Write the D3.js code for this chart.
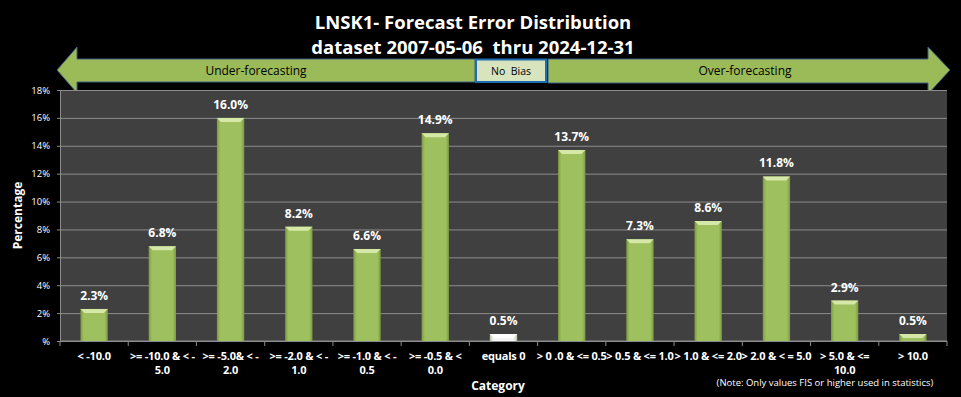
<!DOCTYPE html>
<html>
<head>
<meta charset="utf-8">
<script src="https://cdn.jsdelivr.net/npm/d3@7/dist/d3.min.js"></script>
<style>
	html, body { margin: 0; padding: 0; background: #000; }
	svg { display: block; }
	text { font-family: "Open Sans", "Noto Sans", sans-serif; white-space: pre; }
</style>
</head>
<body>
<div id="chart"></div>
<script>
const titleLines = ["LNSK1- Forecast Error Distribution", "dataset 2007-05-06  thru 2024-12-31"];

// wrapped category labels, lines split with "\n" as in the picture
const categories = [
	"< -10.0",
	">= -10.0 & < -\n5.0",
	">= -5.0& < -\n2.0",
	">= -2.0 & < -\n1.0",
	">= -1.0 & < -\n0.5",
	">= -0.5 & <\n0.0",
	"equals 0",
	"> 0 .0 & <= 0.5",
	"> 0.5 & <= 1.0",
	"> 1.0 & <= 2.0",
	"> 2.0 & < = 5.0",
	"> 5.0 & <=\n10.0",
	"> 10.0"
];
const percentages = [2.3, 6.8, 16.0, 8.2, 6.6, 14.9, 0.5, 13.7, 7.3, 8.6, 11.8, 2.9, 0.5];
const yTicks = [0, 2, 4, 6, 8, 10, 12, 14, 16, 18];

const width = 961, height = 397;
const margin = {top: 90, right: 14, bottom: 56, left: 60};
const green = "#9bbb59";

const svg = d3.select("#chart").append("svg")
	.attr("width", width)
	.attr("height", height);

svg.append("rect").attr("width", width).attr("height", height).attr("fill", "#000");

const defs = svg.append("defs");

function barGradient(id, edge, mid) {
	const g = defs.append("linearGradient").attr("id", id)
		.attr("x1", "0%").attr("x2", "100%").attr("y1", "0%").attr("y2", "0%");
	g.append("stop").attr("offset", "0%").attr("stop-color", edge);
	g.append("stop").attr("offset", "12%").attr("stop-color", mid);
	g.append("stop").attr("offset", "88%").attr("stop-color", mid);
	g.append("stop").attr("offset", "100%").attr("stop-color", edge);
}
barGradient("barGreen", "#7d9a43", "#9fc05e");
barGradient("barWhite", "#b8c8a0", "#f4f4f4");

// title
svg.selectAll("text.title")
	.data(titleLines)
	.enter().append("text")
	.attr("class", "title")
	.attr("x", 473)
	.attr("y", (d, i) => 29 + i * 25)
	.attr("text-anchor", "middle")
	.attr("fill", "#fff")
	.attr("font-weight", "bold")
	.attr("font-size", 18.5)
	.text(d => d);

// bias arrows
const arrows = svg.append("g");
arrows.append("path")
	.attr("d", "M57,70 L77,47 L77,59 L475,59 L475,82 L77,82 L77,93 Z")
	.attr("fill", green).attr("stroke", "#3d5c85").attr("stroke-width", 1);
arrows.append("path")
	.attr("d", "M548,59 L928,59 L928,47 L950,70 L928,94 L928,83 L548,83 Z")
	.attr("fill", green).attr("stroke", "#3d5c85").attr("stroke-width", 1);
arrows.append("rect")
	.attr("x", 476).attr("y", 59.5).attr("width", 70).attr("height", 22.5)
	.attr("fill", "#d7e4bd").attr("stroke", "#1f6db3").attr("stroke-width", 2);

arrows.selectAll("text")
	.data([["Under-forecasting", 256, 12], ["No  Bias", 511, 10.5], ["Over-forecasting", 745, 12]])
	.enter().append("text")
	.attr("x", d => d[1])
	.attr("y", 75)
	.attr("text-anchor", "middle")
	.attr("font-size", d => d[2])
	.attr("fill", "#000")
	.text(d => d[0]);

// plot
const x = d3.scaleBand()
	.domain(d3.range(categories.length))
	.range([margin.left, width - margin.right])
	.paddingInner(0.6)
	.paddingOuter(0.3);

const y = d3.scaleLinear()
	.domain([0, 18])
	.range([height - margin.bottom, margin.top]);

svg.append("rect")
	.attr("x", margin.left).attr("y", margin.top)
	.attr("width", width - margin.right - margin.left)
	.attr("height", height - margin.bottom - margin.top)
	.attr("fill", "#404040");

const yAxis = d3.axisLeft(y)
	.tickValues(yTicks)
	.tickSizeInner(-(width - margin.left - margin.right))
	.tickSizeOuter(0)
	.tickPadding(10)
	.tickFormat(d => d === 0 ? "%" : d + "%");

const gY = svg.append("g")
	.attr("transform", `translate(${margin.left},0)`)
	.call(yAxis);
gY.select(".domain").attr("stroke", "#8c8c8c");
gY.selectAll(".tick line").attr("stroke", "#8c8c8c").attr("x1", -3);
gY.selectAll(".tick text")
	.attr("fill", "#fff")
	.attr("font-size", 9.5)
	.attr("font-family", "'Open Sans', sans-serif");

// category boundary ticks along the bottom
const step = x.step();
const gX = svg.append("g");
gX.append("line")
	.attr("x1", margin.left).attr("x2", width - margin.right)
	.attr("y1", y(0)).attr("y2", y(0))
	.attr("stroke", "#8c8c8c");
gX.selectAll("line.tk")
	.data(d3.range(categories.length + 1))
	.enter().append("line")
	.attr("class", "tk")
	.attr("x1", d => margin.left + d * step).attr("x2", d => margin.left + d * step)
	.attr("y1", y(0)).attr("y2", y(0) + 5)
	.attr("stroke", "#8c8c8c");

const labels = gX.selectAll("text.cat")
	.data(categories)
	.enter().append("text")
	.attr("class", "cat")
	.attr("text-anchor", "middle")
	.attr("fill", "#fff")
	.attr("font-weight", "bold")
	.attr("font-size", 11)
	.attr("letter-spacing", -0.2);
labels.selectAll("tspan")
	.data((d, i) => d.split("\n").map(s => [s, i]))
	.enter().append("tspan")
	.attr("x", d => x(d[1]) + x.bandwidth() / 2)
	.attr("y", (d, j) => 360 + j * 14)
	.text(d => d[0]);

// bars
const bars = svg.append("g").selectAll("g.bar")
	.data(percentages)
	.enter().append("g")
	.attr("class", "bar");

const isZero = i => categories[i] === "equals 0";

bars.append("rect")
	.attr("x", (d, i) => x(i))
	.attr("y", d => y(d))
	.attr("width", x.bandwidth())
	.attr("height", d => y(0) - y(d))
	.attr("fill", (d, i) => isZero(i) ? "url(#barWhite)" : "url(#barGreen)");

bars.append("path")
	.attr("d", (d, i) => {
		const x0 = x(i), x1 = x0 + x.bandwidth(), t = y(d), b = 4;
		return `M${x0},${t} L${x1},${t} L${x1 - b},${t + b} L${x0 + b},${t + b} Z`;
	})
	.attr("fill", (d, i) => isZero(i) ? "#ffffff" : "#d6e8a8");

bars.append("text")
	.attr("x", (d, i) => x(i) + x.bandwidth() / 2)
	.attr("y", d => y(d) - 9)
	.attr("text-anchor", "middle")
	.attr("fill", "#fff")
	.attr("font-weight", "bold")
	.attr("font-size", 12)
	.text(d => d.toFixed(1) + "%");

// axis titles
svg.append("text")
	.attr("transform", `translate(22,${(y(0) + y(18)) / 2}) rotate(-90)`)
	.attr("text-anchor", "middle")
	.attr("fill", "#fff")
	.attr("font-weight", "bold")
	.attr("font-size", 12)
	.text("Percentage");

svg.append("text")
	.attr("x", 498).attr("y", 390)
	.attr("text-anchor", "middle")
	.attr("fill", "#fff")
	.attr("font-weight", "bold")
	.attr("font-size", 12)
	.text("Category");

svg.append("text")
	.attr("x", 825).attr("y", 386)
	.attr("text-anchor", "middle")
	.attr("fill", "#fff")
	.attr("font-size", 9.5)
	.text("(Note: Only values FIS or higher used in statistics)");
</script>
</body>
</html>
